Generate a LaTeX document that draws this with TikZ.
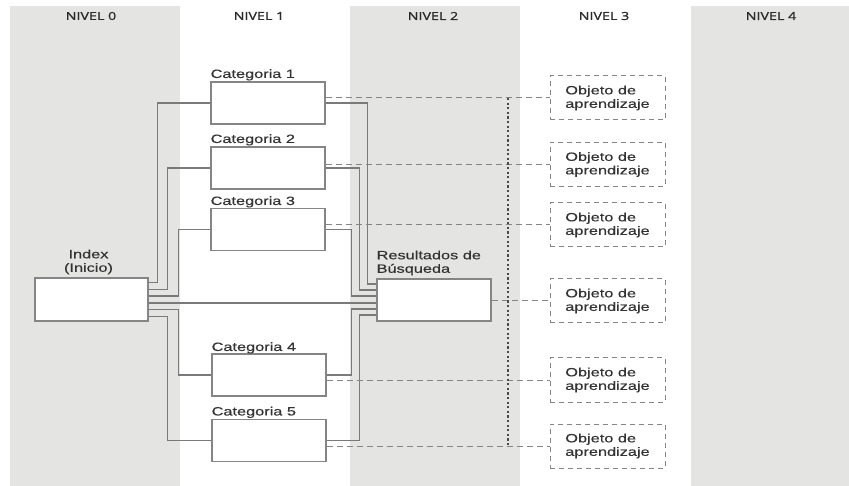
\documentclass[tikz,border=0pt]{standalone}
\usepackage{fontspec}
\newfontfamily\hdrfont[FakeStretch=1.3,FakeBold=1.2]{Open Sans}
\newfontfamily\bodyfont[FakeStretch=1.36,FakeBold=0.4]{Liberation Sans}
\definecolor{colgrey}{HTML}{E4E4E2}
\definecolor{boxc}{HTML}{858585}
\definecolor{linec}{HTML}{7A7A7A}
\definecolor{txtc}{HTML}{333333}
\definecolor{hdrc}{HTML}{2A2A2A}
\definecolor{dotc}{HTML}{4A4A4A}
\tikzset{
  box/.style={draw=boxc, fill=white, line width=1.1pt, minimum width=114pt, minimum height=42pt, inner sep=0pt},
  objbox/.style={draw=boxc, dashed, dash pattern=on 5pt off 4pt, line width=1pt, minimum width=115pt, minimum height=44pt, inner sep=0pt, align=left, text=txtc, font=\bodyfont\fontsize{12}{13.5}\selectfont},
  lbl/.style={inner sep=0pt, text=txtc, font=\bodyfont\fontsize{12}{13.5}\selectfont},
  hdr/.style={inner sep=0pt, text=hdrc, font=\hdrfont\fontsize{11}{13}\selectfont},
  conn/.style={draw=linec, line width=1.1pt},
  dline/.style={draw=boxc, line width=1pt, dash pattern=on 6pt off 4pt},
  dotl/.style={draw=dotc, line width=2pt, dash pattern=on 2.2pt off 2.4pt}
}
\begin{document}
\begin{tikzpicture}[x=1pt,y=-1pt]
\useasboundingbox (0,0) rectangle (849,486);
\fill[white] (0,0) rectangle (849,486);
\fill[colgrey] (10,6) rectangle (180,486);
\fill[colgrey] (350,6) rectangle (520,486);
\fill[colgrey] (691,6) rectangle (849,486);

% headers
\node[hdr] (h0) at (91,16) {NIVEL 0};
\node[hdr] (h1) at (259,16) {NIVEL 1};
\node[hdr] (h2) at (433,16) {NIVEL 2};
\node[hdr] (h3) at (604,16) {NIVEL 3};
\node[hdr] (h4) at (771,16) {NIVEL 4};

% boxes
\node[box, minimum width=113pt, minimum height=43pt] (idx) at (91.5,299.5) {};
\node[box] (cat1) at (268,103) {};
\node[box] (cat2) at (268,168) {};
\node[box] (cat3) at (268,229.5) {};
\node[box] (cat4) at (269,375) {};
\node[box] (cat5) at (269,440.5) {};
\node[box] (res) at (434,300) {};

% labels
\node[lbl, align=center, anchor=south] (lidx) at ([xshift=-3pt,yshift=3pt]idx.north) {Index\\(Inicio)};
\node[lbl, align=left, anchor=south west] (lres) at ([yshift=3pt]res.north west) {Resultados de\\Búsqueda};
\node[lbl, anchor=base west] (l1) at ([yshift=3.5pt]cat1.north west) {Categoria 1};
\node[lbl, anchor=base west] (l2) at ([yshift=3.5pt]cat2.north west) {Categoria 2};
\node[lbl, anchor=base west] (l3) at ([yshift=3pt]cat3.north west) {Categoria 3};
\node[lbl, anchor=base west] (l4) at ([yshift=2.5pt]cat4.north west) {Categoria 4};
\node[lbl, anchor=base west] (l5) at ([yshift=3.5pt]cat5.north west) {Categoria 5};

% objects
\node[objbox] (obj1) at (607.5,98) {Objeto de\\aprendizaje};
\node[objbox] (obj2) at (607.5,164.5) {Objeto de\\aprendizaje};
\node[objbox] (obj3) at (607.5,225) {Objeto de\\aprendizaje};
\node[objbox] (obj4) at (607.5,301) {Objeto de\\aprendizaje};
\node[objbox] (obj5) at (607.5,380) {Objeto de\\aprendizaje};
\node[objbox] (obj6) at (607.5,446) {Objeto de\\aprendizaje};

% index -> categories
\draw[conn] ([yshift=17pt]idx.east) -- ++(9,0) |- (cat1.west);
\draw[conn] ([yshift=10pt]idx.east) -- ++(19,0) |- (cat2.west);
\draw[conn] ([yshift=3.5pt]idx.east) -- ++(30,0) |- (cat3.west);
\draw[conn] ([yshift=-10pt]idx.east) -- ++(30,0) |- (cat4.west);
\draw[conn] ([yshift=-17pt]idx.east) -- ++(19,0) |- (cat5.west);
\coordinate (i4) at ([yshift=-3.5pt]idx.east);
\draw[conn] (i4) -- (i4 -| res.west);

% categories -> resultados
\draw[conn] (cat1.east) -| ([xshift=-9pt,yshift=16pt]res.west) -- ([yshift=16pt]res.west);
\draw[conn] (cat2.east) -| ([xshift=-17pt,yshift=10pt]res.west) -- ([yshift=10pt]res.west);
\draw[conn] (cat3.east) -| ([xshift=-25pt,yshift=4pt]res.west) -- ([yshift=4pt]res.west);
\draw[conn] (cat4.east) -| ([xshift=-25pt,yshift=-9pt]res.west) -- ([yshift=-9pt]res.west);
\draw[conn] (cat5.east) -| ([xshift=-17pt,yshift=-15pt]res.west) -- ([yshift=-15pt]res.west);

% dashed links to objects
\draw[dline] (obj1.west -| cat1.east) -- (obj1.west);
\draw[dline] (obj2.west -| cat2.east) -- (obj2.west);
\draw[dline] (obj3.west -| cat3.east) -- (obj3.west);
\draw[dline] (obj4.west -| res.east) -- (obj4.west);
\draw[dline] (obj5.west -| cat4.east) -- (obj5.west);
\draw[dline] (obj6.west -| cat5.east) -- (obj6.west);

% dotted vertical
\coordinate (dx) at (508,0);
\draw[dotl] (obj1.west -| dx) -- (obj6.west -| dx);
\end{tikzpicture}
\end{document}
